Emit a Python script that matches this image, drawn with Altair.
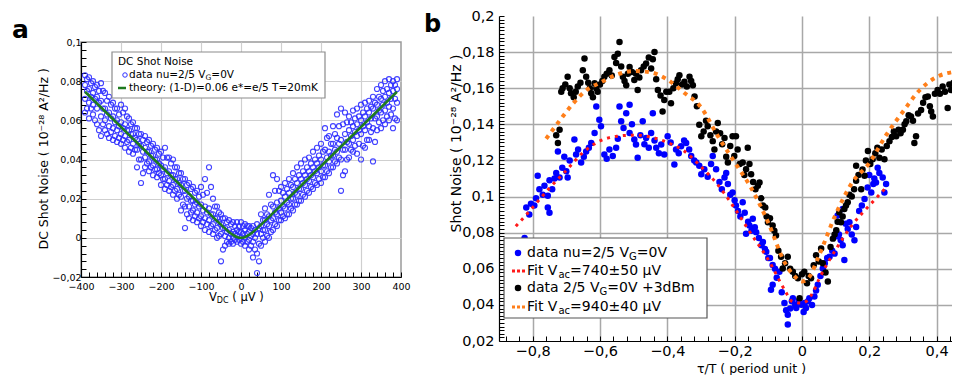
import altair as alt
import pandas as pd

FONT = "DejaVu Sans"

# ---------------- Panel a : DC shot noise ----------------
v_dc = list(range(-390, 391, 10))
noise_sweep1 = [0.064, 0.061, 0.063, 0.058, 0.052, 0.055, 0.051, 0.050, 0.049, 0.048,
                0.046, 0.044, 0.043, 0.036, 0.028, 0.036, 0.034, 0.032, 0.031, 0.027,
                0.025, 0.024, 0.022, 0.020, 0.014, 0.005, 0.010, 0.009, 0.008, 0.006,
                0.004, 0.003, 0.002, 0.000, -0.012, -0.004, -0.003, -0.003, -0.002, -0.003,
                -0.004, -0.006, -0.010, -0.018, -0.004, -0.002, 0.000, 0.004, 0.006, 0.009,
                0.010, 0.012, 0.014, 0.017, 0.019, 0.021, 0.023, 0.025, 0.027, 0.028,
                0.031, 0.033, 0.036, 0.038, 0.024, 0.034, 0.041, 0.044, 0.043, 0.040,
                0.046, 0.050, 0.039, 0.055, 0.056, 0.058, 0.060, 0.056, 0.060]
noise_sweep2 = [0.071, 0.069, 0.068, 0.066, 0.062, 0.060, 0.057, 0.056, 0.055, 0.053,
                0.052, 0.050, 0.048, 0.045, 0.040, 0.041, 0.039, 0.037, 0.035, 0.032,
                0.030, 0.029, 0.027, 0.025, 0.021, 0.016, 0.016, 0.014, 0.013, 0.011,
                0.010, 0.009, 0.007, 0.005, 0.002, 0.001, 0.000, 0.000, 0.001, 0.000,
                0.000, -0.001, -0.002, -0.008, 0.002, 0.004, 0.006, 0.010, 0.012, 0.013,
                0.015, 0.017, 0.020, 0.022, 0.025, 0.027, 0.029, 0.031, 0.033, 0.034,
                0.037, 0.039, 0.042, 0.044, 0.040, 0.045, 0.048, 0.050, 0.052, 0.053,
                0.055, 0.057, 0.056, 0.062, 0.064, 0.065, 0.067, 0.066, 0.069]
noise_sweep3 = [0.078, 0.076, 0.074, 0.072, 0.070, 0.066, 0.064, 0.062, 0.060, 0.059,
                0.058, 0.055, 0.053, 0.050, 0.047, 0.046, 0.044, 0.042, 0.040, 0.037,
                0.036, 0.034, 0.032, 0.030, 0.027, 0.024, 0.021, 0.019, 0.018, 0.017,
                0.016, 0.015, 0.012, 0.010, 0.007, 0.005, 0.004, 0.003, 0.004, 0.003,
                0.004, 0.003, 0.002, 0.002, 0.006, 0.009, 0.011, 0.016, 0.018, 0.019,
                0.021, 0.023, 0.026, 0.028, 0.030, 0.032, 0.034, 0.036, 0.038, 0.040,
                0.045, 0.044, 0.048, 0.051, 0.050, 0.053, 0.055, 0.057, 0.058, 0.060,
                0.062, 0.064, 0.066, 0.068, 0.071, 0.072, 0.074, 0.075, 0.076]
noise_sweep4 = [0.083, 0.082, 0.080, 0.078, 0.079, 0.074, 0.072, 0.069, 0.066, 0.068,
                0.066, 0.061, 0.059, 0.056, 0.053, 0.052, 0.050, 0.048, 0.046, 0.044,
                0.046, 0.041, 0.040, 0.036, 0.033, 0.030, 0.028, 0.026, 0.024, 0.026,
                0.030, 0.036, 0.020, 0.016, 0.012, 0.010, 0.009, 0.008, 0.008, 0.008,
                0.007, 0.006, 0.006, 0.007, 0.012, 0.015, 0.022, 0.032, 0.030, 0.026,
                0.028, 0.030, 0.033, 0.036, 0.038, 0.040, 0.041, 0.044, 0.046, 0.048,
                0.056, 0.052, 0.057, 0.063, 0.066, 0.064, 0.062, 0.065, 0.066, 0.068,
                0.069, 0.070, 0.072, 0.076, 0.078, 0.080, 0.081, 0.080, 0.081]
v_dc_mid = list(range(-385, 386, 10))
noise_sweep5 = [0.066, 0.066, 0.060, 0.055, 0.058, 0.053, 0.054, 0.052, 0.051, 0.050,
                0.049, 0.046, 0.045, 0.040, 0.033, 0.038, 0.036, 0.035, 0.033, 0.030,
                0.027, 0.026, 0.024, 0.022, 0.017, 0.012, 0.013, 0.011, 0.010, 0.008,
                0.007, 0.006, 0.004, 0.001, -0.006, -0.002, -0.002, -0.001, -0.001, -0.002,
                -0.002, -0.004, -0.006, -0.012, 0.000, 0.001, 0.003, 0.007, 0.009, 0.011,
                0.012, 0.015, 0.017, 0.019, 0.022, 0.024, 0.026, 0.028, 0.030, 0.031,
                0.034, 0.036, 0.039, 0.041, 0.032, 0.040, 0.045, 0.047, 0.048, 0.047,
                0.050, 0.054, 0.049, 0.059, 0.060, 0.062, 0.063, 0.061]
noise_sweep6 = [0.075, 0.072, 0.071, 0.069, 0.066, 0.063, 0.061, 0.059, 0.057, 0.056,
                0.055, 0.053, 0.051, 0.048, 0.044, 0.044, 0.042, 0.040, 0.038, 0.035,
                0.033, 0.032, 0.030, 0.028, 0.024, 0.020, 0.019, 0.017, 0.016, 0.014,
                0.013, 0.012, 0.010, 0.008, 0.005, 0.003, 0.002, 0.002, 0.003, 0.002,
                0.002, 0.001, 0.000, -0.003, 0.004, 0.007, 0.009, 0.013, 0.015, 0.016,
                0.018, 0.020, 0.023, 0.025, 0.028, 0.030, 0.032, 0.034, 0.036, 0.037,
                0.041, 0.042, 0.045, 0.048, 0.045, 0.049, 0.052, 0.054, 0.055, 0.057,
                0.059, 0.061, 0.061, 0.065, 0.068, 0.069, 0.071, 0.071]
noise_sweep7 = [0.081, 0.079, 0.077, 0.075, 0.075, 0.070, 0.068, 0.066, 0.063, 0.064,
                0.062, 0.058, 0.056, 0.053, 0.050, 0.049, 0.047, 0.045, 0.043, 0.041,
                0.041, 0.038, 0.036, 0.033, 0.030, 0.027, 0.025, 0.023, 0.021, 0.022,
                0.023, 0.026, 0.016, 0.013, 0.010, 0.008, 0.007, 0.006, 0.006, 0.006,
                0.006, 0.005, 0.004, 0.005, 0.009, 0.012, 0.017, 0.024, 0.024, 0.023,
                0.025, 0.027, 0.030, 0.032, 0.034, 0.036, 0.038, 0.040, 0.042, 0.044,
                0.051, 0.048, 0.053, 0.057, 0.058, 0.059, 0.059, 0.061, 0.062, 0.064,
                0.066, 0.067, 0.069, 0.072, 0.075, 0.076, 0.078, 0.078]
theory_v = [-390, -360, -330, -300, -270, -240, -210, -180, -150, -120, -100, -80, -60, -45,
            -30, -20, -10, 0, 10, 20, 30, 45, 60, 80, 100, 120, 150, 180, 210, 240, 270,
            300, 330, 360, 390]
theory_s = [0.0746, 0.0686, 0.0626, 0.0566, 0.0506, 0.0446, 0.0386, 0.0326, 0.0266, 0.0206,
            0.0166, 0.0126, 0.0086, 0.0057, 0.0030, 0.0015, 0.0004, 0.0, 0.0004, 0.0015,
            0.0030, 0.0057, 0.0086, 0.0126, 0.0166, 0.0206, 0.0266, 0.0326, 0.0386, 0.0446,
            0.0506, 0.0566, 0.0626, 0.0686, 0.0746]

# ---------------- Panel b : photo-assisted shot noise vs delay ----------------
blue_points = [
    (-0.824, 0.077), (-0.819, 0.094), (-0.810, 0.090), (-0.805, 0.096), (-0.795, 0.095),
    (-0.790, 0.099), (-0.785, 0.1115), (-0.780, 0.104), (-0.770, 0.101), (-0.765, 0.106),
    (-0.755, 0.1005), (-0.755, 0.094), (-0.750, 0.091), (-0.750, 0.109), (-0.742, 0.104),
    (-0.735, 0.110), (-0.730, 0.113), (-0.725, 0.125), (-0.720, 0.1105), (-0.712, 0.116),
    (-0.706, 0.122), (-0.700, 0.114), (-0.696, 0.1105), (-0.690, 0.120), (-0.676, 0.1316),
    (-0.671, 0.1233), (-0.665, 0.126), (-0.656, 0.1188), (-0.648, 0.122), (-0.641, 0.125),
    (-0.633, 0.127), (-0.626, 0.1297), (-0.616, 0.1352), (-0.611, 0.1499), (-0.602, 0.1425),
    (-0.597, 0.1389), (-0.587, 0.1233), (-0.580, 0.121), (-0.572, 0.126), (-0.562, 0.1224),
    (-0.552, 0.127), (-0.547, 0.132), (-0.542, 0.1499), (-0.537, 0.1417), (-0.530, 0.138),
    (-0.522, 0.1462), (-0.512, 0.1508), (-0.512, 0.1352), (-0.505, 0.140), (-0.498, 0.1316),
    (-0.493, 0.1288), (-0.488, 0.1215), (-0.480, 0.134), (-0.473, 0.1417), (-0.468, 0.129),
    (-0.463, 0.1325), (-0.455, 0.127), (-0.448, 0.1352), (-0.443, 0.1462), (-0.438, 0.131),
    (-0.433, 0.127), (-0.425, 0.124), (-0.418, 0.1288), (-0.409, 0.1233), (-0.399, 0.1334),
    (-0.390, 0.130), (-0.379, 0.1178), (-0.374, 0.126), (-0.366, 0.124), (-0.359, 0.1279),
    (-0.350, 0.131), (-0.344, 0.1297), (-0.335, 0.126), (-0.329, 0.1224), (-0.320, 0.120),
    (-0.314, 0.1188), (-0.305, 0.117), (-0.299, 0.1123), (-0.290, 0.1151), (-0.280, 0.111),
    (-0.270, 0.118), (-0.265, 0.1224), (-0.255, 0.1151), (-0.245, 0.108), (-0.238, 0.104),
    (-0.230, 0.1105), (-0.225, 0.113), (-0.220, 0.107), (-0.213, 0.101), (-0.206, 0.1023),
    (-0.200, 0.098), (-0.196, 0.095), (-0.190, 0.092), (-0.183, 0.089), (-0.176, 0.0968),
    (-0.170, 0.091), (-0.166, 0.0794), (-0.160, 0.086), (-0.156, 0.084), (-0.150, 0.081),
    (-0.146, 0.0877), (-0.140, 0.083), (-0.136, 0.0803), (-0.128, 0.077), (-0.120, 0.073),
    (-0.116, 0.0749), (-0.110, 0.071), (-0.106, 0.0694), (-0.100, 0.066), (-0.095, 0.066),
    (-0.087, 0.0621), (-0.087, 0.0511), (-0.092, 0.0484), (-0.080, 0.060), (-0.075, 0.055),
    (-0.067, 0.0584), (-0.060, 0.047), (-0.052, 0.041), (-0.047, 0.037), (-0.042, 0.0346),
    (-0.042, 0.0291), (-0.035, 0.038), (-0.030, 0.042), (-0.027, 0.0437), (-0.020, 0.040),
    (-0.017, 0.0383), (-0.010, 0.042), (-0.002, 0.0401), (0.005, 0.036), (0.008, 0.041),
    (0.012, 0.0383), (0.018, 0.042), (0.022, 0.0437), (0.030, 0.040), (0.037, 0.0447),
    (0.042, 0.048), (0.047, 0.0511), (0.055, 0.056), (0.062, 0.0602), (0.068, 0.063),
    (0.075, 0.066), (0.082, 0.0666), (0.090, 0.070), (0.097, 0.0684), (0.103, 0.078),
    (0.106, 0.0895), (0.110, 0.079), (0.115, 0.076), (0.121, 0.073), (0.121, 0.0931),
    (0.126, 0.0648), (0.130, 0.085), (0.136, 0.082), (0.141, 0.0858), (0.148, 0.079),
    (0.156, 0.0758), (0.161, 0.0831), (0.170, 0.092), (0.178, 0.095), (0.186, 0.0986),
    (0.195, 0.105), (0.200, 0.112), (0.206, 0.1023), (0.212, 0.107), (0.215, 0.110),
    (0.220, 0.1078), (0.225, 0.116), (0.230, 0.113), (0.240, 0.1105), (0.245, 0.1023),
    (0.250, 0.107)]
black_points = [
    (-0.730, 0.134), (-0.725, 0.1297), (-0.720, 0.137), (-0.715, 0.158), (-0.711, 0.160),
    (-0.703, 0.162), (-0.696, 0.1664), (-0.690, 0.160), (-0.686, 0.1572), (-0.678, 0.155),
    (-0.672, 0.158), (-0.666, 0.1609), (-0.658, 0.163), (-0.651, 0.170), (-0.646, 0.1764),
    (-0.641, 0.1664), (-0.635, 0.163), (-0.630, 0.160), (-0.626, 0.1572), (-0.621, 0.155),
    (-0.616, 0.1627), (-0.611, 0.160), (-0.607, 0.1581), (-0.600, 0.162), (-0.593, 0.164),
    (-0.587, 0.1664), (-0.580, 0.168), (-0.572, 0.170), (-0.565, 0.167), (-0.557, 0.1773),
    (-0.552, 0.174), (-0.547, 0.1791), (-0.542, 0.1856), (-0.537, 0.172), (-0.532, 0.1664),
    (-0.527, 0.164), (-0.522, 0.1617), (-0.517, 0.168), (-0.512, 0.1718), (-0.505, 0.169),
    (-0.498, 0.1645), (-0.493, 0.168), (-0.488, 0.159), (-0.483, 0.166), (-0.478, 0.170),
    (-0.470, 0.172), (-0.463, 0.1737), (-0.455, 0.177), (-0.448, 0.1709), (-0.443, 0.176),
    (-0.438, 0.180), (-0.433, 0.165), (-0.428, 0.159), (-0.420, 0.156), (-0.414, 0.1471),
    (-0.409, 0.1535), (-0.403, 0.158), (-0.394, 0.1581), (-0.389, 0.1517), (-0.382, 0.160),
    (-0.374, 0.1627), (-0.369, 0.165), (-0.364, 0.1672), (-0.356, 0.162), (-0.349, 0.1636),
    (-0.342, 0.161), (-0.334, 0.1664), (-0.329, 0.164), (-0.324, 0.1617), (-0.319, 0.1554),
    (-0.312, 0.150), (-0.305, 0.1398), (-0.299, 0.1334), (-0.292, 0.136), (-0.285, 0.142),
    (-0.280, 0.1389), (-0.272, 0.134), (-0.265, 0.1307), (-0.260, 0.126), (-0.255, 0.136),
    (-0.250, 0.1407), (-0.243, 0.135), (-0.237, 0.129), (-0.230, 0.1325), (-0.225, 0.122),
    (-0.220, 0.1188), (-0.213, 0.128), (-0.206, 0.1334), (-0.201, 0.1224), (-0.196, 0.1334),
    (-0.191, 0.126), (-0.185, 0.118), (-0.176, 0.1188), (-0.171, 0.112), (-0.166, 0.1151),
    (-0.161, 0.127), (-0.156, 0.118), (-0.151, 0.1123), (-0.145, 0.108), (-0.138, 0.104),
    (-0.131, 0.106), (-0.126, 0.1078), (-0.121, 0.099), (-0.116, 0.095), (-0.109, 0.094),
    (-0.105, 0.089), (-0.101, 0.0858), (-0.095, 0.088), (-0.087, 0.084), (-0.082, 0.081),
    (-0.077, 0.0785), (-0.070, 0.070), (-0.062, 0.0666), (-0.057, 0.0602), (-0.050, 0.063),
    (-0.042, 0.0666), (-0.035, 0.060), (-0.027, 0.0584), (-0.020, 0.056), (-0.012, 0.0547),
    (-0.007, 0.0437), (0.000, 0.057), (0.007, 0.0584), (0.015, 0.052), (0.020, 0.056),
    (0.027, 0.0547), (0.035, 0.062), (0.042, 0.0675), (0.050, 0.064), (0.057, 0.0712),
    (0.062, 0.063), (0.070, 0.058), (0.077, 0.0529), (0.085, 0.072), (0.092, 0.0767),
    (0.097, 0.079), (0.102, 0.0813), (0.106, 0.086), (0.111, 0.0913), (0.116, 0.0858),
    (0.121, 0.089), (0.126, 0.0931), (0.131, 0.095), (0.136, 0.0968), (0.141, 0.101),
    (0.148, 0.100), (0.155, 0.104), (0.161, 0.1087), (0.161, 0.117), (0.168, 0.112),
    (0.176, 0.1041), (0.180, 0.115), (0.186, 0.1115), (0.190, 0.120), (0.196, 0.1252),
    (0.203, 0.118), (0.210, 0.1206), (0.218, 0.124), (0.224, 0.127), (0.230, 0.1215),
    (0.237, 0.126), (0.245, 0.1206), (0.252, 0.128), (0.260, 0.1307), (0.267, 0.133),
    (0.273, 0.136), (0.280, 0.1334), (0.287, 0.137), (0.293, 0.135), (0.300, 0.137),
    (0.305, 0.140), (0.310, 0.1417), (0.317, 0.145), (0.324, 0.1444), (0.330, 0.142),
    (0.334, 0.1297), (0.339, 0.1334), (0.345, 0.146), (0.354, 0.148), (0.360, 0.152),
    (0.367, 0.155), (0.374, 0.1554), (0.380, 0.150), (0.384, 0.1471), (0.389, 0.1444),
    (0.395, 0.157), (0.403, 0.159), (0.410, 0.157), (0.418, 0.1609), (0.425, 0.158),
    (0.433, 0.149), (0.438, 0.162), (0.443, 0.159), (0.450, 0.163), (0.457, 0.160),
    (0.463, 0.1664), (0.468, 0.162), (0.473, 0.1609), (0.480, 0.165), (0.487, 0.158),
    (0.493, 0.162), (0.500, 0.160)]
fit740_tau = [-0.85, -0.8, -0.75, -0.7, -0.65, -0.6, -0.55, -0.5, -0.45, -0.4, -0.35, -0.3,
              -0.25, -0.2, -0.15, -0.1, -0.05, -0.03, 0.0, 0.03, 0.05, 0.1, 0.15, 0.2, 0.25]
fit740_s = [0.0835, 0.094, 0.1047, 0.1145, 0.1245, 0.1308, 0.1334, 0.134, 0.133, 0.130, 0.1252,
            0.1166, 0.1065, 0.0935, 0.079, 0.065, 0.0478, 0.042, 0.041, 0.046, 0.054, 0.0705,
            0.0845, 0.095, 0.105]
fit940_tau = [-0.76, -0.72, -0.68, -0.64, -0.6, -0.55, -0.5, -0.45, -0.4, -0.35, -0.3, -0.25,
              -0.2, -0.15, -0.1, -0.05, -0.02, 0.0, 0.02, 0.05, 0.1, 0.15, 0.2, 0.25, 0.3,
              0.35, 0.4, 0.45, 0.5, 0.55, 0.6]
fit940_s = [0.132, 0.142, 0.1515, 0.159, 0.163, 0.1675, 0.1695, 0.1688, 0.1648, 0.1575, 0.1495,
            0.1335, 0.119, 0.1045, 0.0855, 0.063, 0.0555, 0.053, 0.055, 0.067, 0.090, 0.108,
            0.1185, 0.134, 0.147, 0.159, 0.1662, 0.169, 0.1698, 0.168, 0.164]

# ---------------- helpers ----------------
one = pd.DataFrame({"k": [0]})
DV = {' ': .318, '(': .390, ')': .390, '*': .500, '+': .838, ',': .318, '-': .361, '.': .318,
      '/': .337, ':': .337, '=': .838, '±': .838, 'µ': .636, 'A': .684, 'B': .686, 'C': .698,
      'D': .770, 'F': .575, 'G': .775, 'K': .656, 'T': .611, 'V': .684, 'a': .613, 'c': .550,
      'd': .635, 'e': .615, 'h': .634, 'i': .278, 'm': .974, 'n': .634, 'o': .612, 'r': .411,
      't': .392, 'u': .634, 'y': .592}


def text_w(s, size):
    return sum(DV.get(c, .636) for c in s) * size


def txt(x, y, s, size, color="black", weight="normal", dy=0, baseline="middle"):
    return alt.Chart(one).mark_text(text=s, font=FONT, fontSize=size, fontWeight=weight,
                                    color=color, align="left", baseline=baseline, dy=dy).encode(
        x=alt.value(x), y=alt.value(y))


def rich(x0, y, parts, color="black"):
    # SVG drops leading blanks, so advance the pen by their width instead
    out = []
    x = x0
    for s, size, dy in parts:
        core = s.lstrip(" ")
        x += text_w(s[:len(s) - len(core)], size)
        out.append(txt(x, y, core, size, color=color, dy=dy))
        x += text_w(core, size)
    return out


def make_axis(values, mult, lo, hi, size, grid_color, grid_width, pad, title=None, **kw):
    test = f"abs(datum.value*{mult} - round(datum.value*{mult})) < 1e-6"
    gtest = f"{test} && datum.value > {lo} && datum.value < {hi}"
    return alt.Axis(values=values,
                    labelExpr=f"{test} ? replace(format(datum.value, '~g'), '.', ',') : ''",
                    labelFont=FONT, labelFontSize=size, labelColor="black",
                    labelOverlap=False, labelFlush=False, labelPadding=pad,
                    ticks=True, tickSize={"expr": "-5"}, tickColor="black", tickWidth=1,
                    domain=True, domainColor="black", domainWidth=1.2,
                    grid=True, gridColor=grid_color, gridWidth=grid_width,
                    gridOpacity={"condition": {"test": gtest, "value": 1}, "value": 0},
                    title=title, **kw)


# ---------------- panel a ----------------
BLUE_A = "#2f2fff"
df_a = pd.DataFrame({
    "v": v_dc * 4 + v_dc_mid * 3,
    "s": noise_sweep1 + noise_sweep2 + noise_sweep3 + noise_sweep4
         + noise_sweep5 + noise_sweep6 + noise_sweep7})
df_th = pd.DataFrame({"v": theory_v, "s": theory_s})

ax_a_x = make_axis(list(range(-400, 401, 20)), 0.01, -399, 399, 9.5, "#cfcfcf", 1.2, 9)
ax_a_y = make_axis([round(-0.02 + 0.004 * k, 3) for k in range(31)], 50, -0.019, 0.099, 9.5,
                   "#cfcfcf", 1.2, 5, title="DC Shot Noise ( 10⁻²⁸ A²/Hz )",
                   titleFont=FONT, titleFontSize=12.5, titleFontWeight="normal",
                   titleColor="black", titleAngle=270, titleAlign="left",
                   titleBaseline="middle", titleX=-38, titleY=207)
xa = alt.X("v:Q", scale=alt.Scale(domain=[-400, 400], nice=False, zero=False), axis=ax_a_x)
ya = alt.Y("s:Q", scale=alt.Scale(domain=[-0.02, 0.1], nice=False, zero=False), axis=ax_a_y)

pts_a = alt.Chart(df_a).mark_point(shape="circle", filled=False, color=BLUE_A, size=26,
                                   strokeWidth=1.1, opacity=0.9).encode(x=xa, y=ya)
th_a = alt.Chart(df_th).mark_line(color="#1e7a1e", strokeWidth=2.5,
                                  interpolate="monotone").encode(x=xa, y=ya)

leg_a = [
    alt.Chart(one).mark_rect(fill="white", stroke="#8c8c8c", strokeWidth=1.2).encode(
        x=alt.value(31), x2=alt.value(244), y=alt.value(10), y2=alt.value(56)),
    txt(37, 20, "DC Shot Noise", 10.5),
    alt.Chart(one).mark_point(shape="circle", filled=False, color=BLUE_A, size=20,
                              strokeWidth=1, opacity=1).encode(x=alt.value(44), y=alt.value(33)),
    *rich(48, 33, [("data nu=2/5 V", 10.5, 0), ("G", 7.5, 2.5), ("=0V", 10.5, 0)]),
    alt.Chart(one).mark_rule(color="#1e7a1e", strokeWidth=2.5).encode(
        x=alt.value(37), x2=alt.value(45), y=alt.value(46)),
    txt(48, 46, "theory: (1-D)=0.06 e*=e/5 T=20mK", 10.5),
]
deco_a = [
    *rich(128, 256, [("V", 11.5, 0), ("DC", 8, 3), (" ( µV )", 11.5, 0)]),
    txt(-69, -4, "a", 25, weight="bold", baseline="alphabetic"),
]

panel_a = alt.layer(pts_a, th_a, *leg_a, *deco_a).properties(
    width=320, height=235,
    view=alt.ViewBackground(stroke="#9a9a9a", strokeWidth=1.5))

# spacer that lowers panel a relative to panel b
spacer = alt.Chart(one).mark_rect(opacity=0).encode(
    x=alt.value(0), x2=alt.value(1), y=alt.value(0), y2=alt.value(1)).properties(
    width=320, height=1, view=alt.ViewBackground(strokeOpacity=0))
col_a = alt.vconcat(spacer, panel_a, spacing=0)

# ---------------- panel b ----------------
df_blue = pd.DataFrame(blue_points, columns=["t", "s"])
df_black = pd.DataFrame(black_points, columns=["t", "s"])
df_f1 = pd.DataFrame({"t": fit740_tau, "s": fit740_s})
df_f2 = pd.DataFrame({"t": fit940_tau, "s": fit940_s})

B_W = 453
B_MAX = round(-0.9 + B_W / 336.6, 4)

ax_b_x = make_axis([round(-0.88 + 0.04 * k, 2) for k in range(34)], 5, -0.89, 0.43, 14.5,
                   "#a8a8a8", 1.5, 8, title="τ/T  ( period unit )",
                   titleFont=FONT, titleFontSize=12.5, titleFontWeight="normal",
                   titleColor="black", titleAlign="center", titleBaseline="middle",
                   titleX=252, titleY=27)
ax_b_y = make_axis([round(0.02 + 0.002 * k, 3) for k in range(91)], 50, 0.021, 0.199, 14.5,
                   "#a8a8a8", 1.5, 10, title="Shot Noise ( 10⁻²⁸ A²/Hz )",
                   titleFont=FONT, titleFontSize=14, titleFontWeight="normal",
                   titleColor="black", titleAngle=270, titleAlign="left",
                   titleBaseline="middle", titleX=-43, titleY=216)
xb = alt.X("t:Q", scale=alt.Scale(domain=[-0.9, B_MAX], nice=False, zero=False), axis=ax_b_x)
yb = alt.Y("s:Q", scale=alt.Scale(domain=[0.02, 0.2], nice=False, zero=False), axis=ax_b_y)

blue_b = alt.Chart(df_blue).mark_circle(color="#0000ff", size=42, opacity=1, clip=True).encode(x=xb, y=yb)
black_b = alt.Chart(df_black).mark_circle(color="#000000", size=42, opacity=1, clip=True).encode(x=xb, y=yb)
fit1_b = alt.Chart(df_f1).mark_line(color="#ff1a1a", strokeWidth=3, strokeDash=[3, 5],
                                    strokeCap="butt", interpolate="monotone", clip=True).encode(x=xb, y=yb)
fit2_b = alt.Chart(df_f2).mark_line(color="#ff7f1a", strokeWidth=4, strokeDash=[4, 5],
                                    strokeCap="butt", interpolate="monotone", clip=True).encode(x=xb, y=yb)

leg_b = [
    alt.Chart(one).mark_rect(fill="white", stroke="#555555", strokeWidth=1.2).encode(
        x=alt.value(5), x2=alt.value(208), y=alt.value(222), y2=alt.value(302)),
    alt.Chart(one).mark_circle(color="#0000ff", size=42, opacity=1).encode(x=alt.value(19), y=alt.value(237)),
    *rich(28, 237, [("data nu=2/5 V", 14, 0), ("G", 10, 4), ("=0V", 14, 0)]),
    alt.Chart(one).mark_rule(color="#ff1a1a", strokeWidth=3, strokeDash=[3, 2]).encode(
        x=alt.value(13), x2=alt.value(27), y=alt.value(255)),
    *rich(28, 255, [("Fit V", 14, 0), ("ac", 10, 4), ("=740±50 µV", 14, 0)]),
    alt.Chart(one).mark_circle(color="#000000", size=42, opacity=1).encode(x=alt.value(19), y=alt.value(272)),
    *rich(28, 272, [("data 2/5 V", 14, 0), ("G", 10, 4), ("=0V +3dBm", 14, 0)]),
    alt.Chart(one).mark_rule(color="#ff7f1a", strokeWidth=3, strokeDash=[3, 2]).encode(
        x=alt.value(13), x2=alt.value(27), y=alt.value(291)),
    *rich(28, 291, [("Fit V", 14, 0), ("ac", 10, 4), ("=940±40 µV", 14, 0)]),
]
deco_b = [txt(-75, 16, "b", 24, weight="bold", baseline="alphabetic")]

panel_b = alt.layer(blue_b, black_b, fit1_b, fit2_b, *leg_b, *deco_b).properties(
    width=B_W, height=325,
    view=alt.ViewBackground(strokeOpacity=0))

chart = alt.hconcat(col_a, panel_b, spacing=13).properties(
    padding={"left": 3, "top": 0, "right": 0, "bottom": 0},
    background="white")

chart.save("out.html", embed_options={"renderer": "svg", "actions": False})
